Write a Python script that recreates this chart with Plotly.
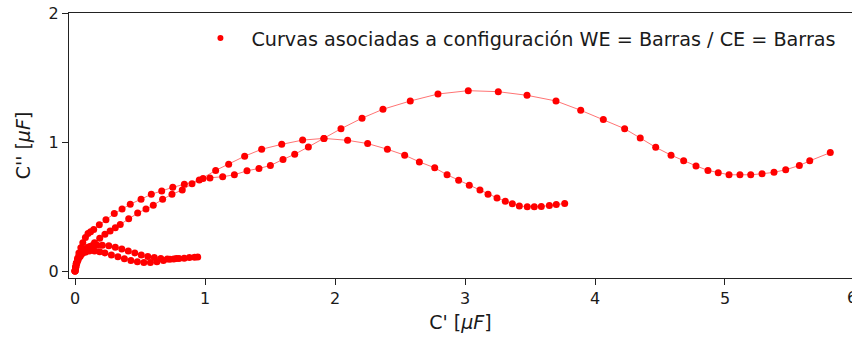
import plotly.graph_objects as go

# Capacitance curves C' vs C'' (in microfarads), configuration WE = Barras / CE = Barras
curve_a_x = [0.0, 0.004, 0.008, 0.015, 0.025, 0.04, 0.06, 0.085, 0.115, 0.15, 0.19, 0.23, 0.27, 0.31,
             0.348, 0.413, 0.482, 0.546, 0.602, 0.674, 0.746, 0.825, 0.9, 0.985, 1.038, 1.136, 1.226,
             1.323, 1.415, 1.503, 1.6, 1.69, 1.795, 1.915, 2.046, 2.208, 2.369, 2.579, 2.792, 3.025,
             3.256, 3.477, 3.7, 3.89, 4.064, 4.228, 4.348, 4.467, 4.585, 4.682, 4.777, 4.869, 4.948,
             5.031, 5.115, 5.198, 5.285, 5.377, 5.467, 5.572, 5.652, 5.81]
curve_a_y = [0.0, 0.02, 0.04, 0.065, 0.09, 0.115, 0.14, 0.165, 0.19, 0.22, 0.255, 0.285, 0.31, 0.335,
             0.36, 0.405, 0.449, 0.48, 0.51, 0.556, 0.595, 0.628, 0.677, 0.718, 0.721, 0.731, 0.746,
             0.777, 0.795, 0.818, 0.865, 0.905, 0.962, 1.028, 1.103, 1.185, 1.254, 1.318, 1.372, 1.398,
             1.39, 1.362, 1.318, 1.246, 1.175, 1.103, 1.031, 0.959, 0.898, 0.854, 0.815, 0.78, 0.762,
             0.746, 0.746, 0.746, 0.754, 0.765, 0.785, 0.818, 0.854, 0.918]

curve_b_x = [0.0, 0.005, 0.01, 0.02, 0.03, 0.045, 0.06, 0.08, 0.1, 0.12, 0.144, 0.187, 0.238, 0.302,
             0.362, 0.425, 0.508, 0.587, 0.667, 0.752, 0.841, 0.956, 1.082, 1.182, 1.305, 1.436, 1.59,
             1.751, 1.915, 2.097, 2.251, 2.403, 2.536, 2.649, 2.767, 2.862, 2.951, 3.033, 3.115, 3.177,
             3.246, 3.31, 3.364, 3.418, 3.479, 3.533, 3.587, 3.649, 3.702, 3.767]
curve_b_y = [0.0, 0.03, 0.06, 0.1, 0.14, 0.18, 0.22, 0.26, 0.29, 0.305, 0.321, 0.359, 0.398, 0.446,
             0.48, 0.518, 0.557, 0.595, 0.621, 0.649, 0.672, 0.705, 0.78, 0.828, 0.89, 0.944, 0.982,
             1.015, 1.028, 1.013, 0.988, 0.944, 0.898, 0.846, 0.8, 0.746, 0.703, 0.665, 0.628, 0.595,
             0.567, 0.541, 0.521, 0.505, 0.498, 0.498, 0.5, 0.508, 0.515, 0.523]

curve_c_x = [0.0, 0.005, 0.01, 0.02, 0.03, 0.05, 0.07, 0.1, 0.13, 0.17, 0.21, 0.26, 0.31, 0.36, 0.41,
             0.46, 0.51, 0.56, 0.61, 0.66, 0.71, 0.76, 0.8, 0.84, 0.88, 0.92, 0.944]
curve_c_y = [0.0, 0.03, 0.06, 0.09, 0.12, 0.15, 0.17, 0.185, 0.195, 0.2, 0.2, 0.195, 0.185, 0.17, 0.155,
             0.14, 0.125, 0.112, 0.104, 0.098, 0.094, 0.094, 0.097, 0.1, 0.104, 0.107, 0.108]

curve_d_x = [0.0, 0.005, 0.01, 0.02, 0.035, 0.05, 0.08, 0.11, 0.15, 0.19, 0.23, 0.28, 0.33, 0.38, 0.43,
             0.48, 0.53, 0.58, 0.63, 0.68, 0.73, 0.78]
curve_d_y = [0.0, 0.025, 0.05, 0.08, 0.11, 0.13, 0.145, 0.155, 0.155, 0.15, 0.14, 0.125, 0.11, 0.095,
             0.082, 0.072, 0.066, 0.066, 0.072, 0.082, 0.092, 0.098]

curves = [(curve_a_x, curve_a_y), (curve_b_x, curve_b_y), (curve_c_x, curve_c_y), (curve_d_x, curve_d_y)]

legend_label = "Curvas asociadas a configuración WE = Barras / CE = Barras"
x_ticks = [0, 1, 2, 3, 4, 5]
y_ticks = [0, 1, 2]

RED = "#ff0000"
FONT = "DejaVu Sans"
TXT = "#1a1a1a"

fig = go.Figure()
for cx, cy in curves:
    fig.add_trace(go.Scatter(
        x=cx, y=cy, mode="lines+markers",
        line=dict(color="rgba(255,0,0,0.55)", width=1),
        marker=dict(color=RED, size=7, line=dict(width=0)),
        showlegend=False, hoverinfo="skip",
    ))

# legend entry: marker only
fig.add_trace(go.Scatter(
    x=[None], y=[None], mode="markers", name=legend_label,
    marker=dict(color=RED, size=6), showlegend=True,
))

fig.update_layout(
    width=852, height=338,
    margin=dict(l=69, r=0, t=13, b=60),
    paper_bgcolor="white", plot_bgcolor="white",
    font=dict(family=FONT, size=16, color=TXT),
    legend=dict(
        x=0.1538, y=0.977, xanchor="left", yanchor="top",
        bgcolor="rgba(255,255,255,0)", borderwidth=0,
        font=dict(family=FONT, size=19.2, color=TXT),
        itemwidth=52,
    ),
    xaxis=dict(
        range=[-0.0462, 5.977], tickvals=x_ticks, ticktext=[str(v) for v in x_ticks],
        showgrid=False, zeroline=False,
        showline=True, linecolor="#222", linewidth=1, mirror=True,
        ticks="outside", ticklen=6, tickwidth=1, tickcolor="#222",
        tickfont=dict(family=FONT, size=16, color=TXT),
        title=dict(text="C' [<i>μF</i>]", font=dict(family=FONT, size=19, color=TXT), standoff=8),
    ),
    yaxis=dict(
        range=[-0.054, 2.0], tickvals=y_ticks, ticktext=[str(v) for v in y_ticks],
        showgrid=False, zeroline=False,
        showline=True, linecolor="#222", linewidth=1,
        ticks="outside", ticklen=6, tickwidth=1, tickcolor="#222",
        tickfont=dict(family=FONT, size=16, color=TXT),
        title=dict(text="C'' [<i>μF</i>]", font=dict(family=FONT, size=19, color=TXT), standoff=12),
    ),
)

# tick label "6" sits just past the right edge of the plotting area
fig.add_annotation(
    x=(845 - 69) / (852 - 69), y=0, xref="paper", yref="paper",
    text="6", showarrow=False, xanchor="left", yanchor="top", yshift=-8,
    font=dict(family=FONT, size=16, color=TXT),
)

fig.write_html("out.html")
